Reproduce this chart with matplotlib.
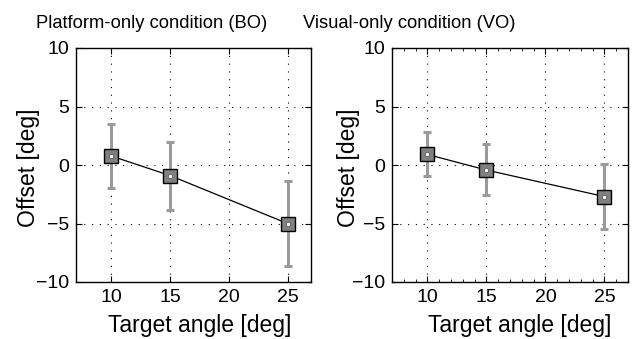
import numpy as np
import matplotlib.pyplot as plt
from matplotlib.ticker import MultipleLocator

plt.rcParams['font.family'] = ['Liberation Sans', 'DejaVu Sans']

# Data
angles = [10, 15, 25]
bo_offset = [0.77, -0.9, -5.0]
bo_upper = [3.5, 2.0, -1.35]
bo_lower = [-2.0, -3.85, -8.65]
vo_offset = [0.9, -0.43, -2.7]
vo_upper = [2.8, 1.8, 0.06]
vo_lower = [-0.95, -2.6, -5.45]
titles = ["Platform-only condition (BO)", "Visual-only condition (VO)"]

fig = plt.figure(figsize=(6.44, 3.39), dpi=100)
ax1 = fig.add_axes([76/644, 1-282/339, 235/644, 234/339])
ax2 = fig.add_axes([392/644, 1-282/339, 236/644, 234/339])


def draw(ax, y, up, lo, minor, xlab_pos, ylab_pos):
    y = np.array(y)
    err = [y - np.array(lo), np.array(up) - y]
    ax.errorbar(angles, y, yerr=err, fmt='none', ecolor='#9a9a9a',
                elinewidth=2.2, capsize=3, capthick=2.2, zorder=2)
    ax.plot(angles, y, color='black', lw=0.9, zorder=3)
    ax.plot(angles, y, 's', ms=10.5, mfc='#808080', mec='black', mew=1.0, zorder=4)
    ax.plot(angles, y, 'o', ms=3, mfc='white', mec='#333333', mew=0.4, zorder=5)
    ax.set_xlim(7, 27)
    ax.set_ylim(-10, 10)
    ax.set_xticks([10, 15, 20, 25])
    ax.set_yticks([-10, -5, 0, 5, 10])
    ax.set_yticklabels(['\u221210', '\u22125', '0', '5', '10'])
    if minor:
        ax.xaxis.set_minor_locator(MultipleLocator(1))
    ax.grid(True, color='black', linestyle=(0, (1, 6)), lw=0.8)
    ax.tick_params(direction='in', top=True, right=True, length=4,
                   labelsize=14, pad=5)
    ax.tick_params(which='minor', direction='in', top=True, length=2)
    for s in ax.spines.values():
        s.set_linewidth(1.0)
    ax.set_xlabel("Target angle [deg]", fontsize=16.5)
    ax.set_ylabel("Offset [deg]", fontsize=16.5)
    ax.xaxis.set_label_coords(*xlab_pos)
    ax.yaxis.set_label_coords(*ylab_pos)


draw(ax1, bo_offset, bo_upper, bo_lower, False, (0.528, -0.137), (-0.153, 0.49))
draw(ax2, vo_offset, vo_upper, vo_lower, True, (0.542, -0.137), (-0.135, 0.49))

fig.text(152/644, 1-28/339, titles[0], ha='center', va='baseline', fontsize=13.2)
fig.text(409/644, 1-28/339, titles[1], ha='center', va='baseline', fontsize=13.2)

fig.savefig('out.png', dpi=100)
